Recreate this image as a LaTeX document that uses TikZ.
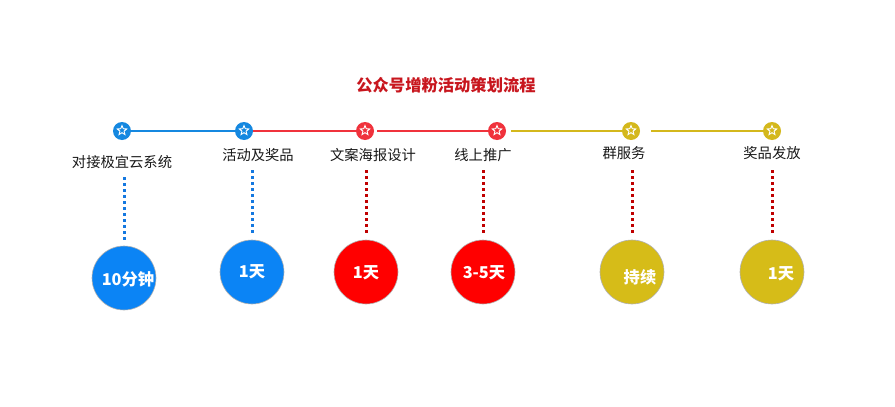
\documentclass[tikz,border=0pt]{standalone}
\usepackage{fontspec}
\setmainfont{Noto Sans CJK SC}
\usetikzlibrary{shapes.geometric}
\definecolor{cblue}{HTML}{0B84F5}
\definecolor{mblue}{HTML}{1588E0}
\definecolor{cred}{HTML}{FF0000}
\definecolor{mred}{HTML}{F0323C}
\definecolor{cyel}{HTML}{D6BC18}
\definecolor{myel}{HTML}{D4B81C}
\definecolor{dred}{HTML}{C00000}
\definecolor{dblue}{HTML}{1478E0}
\definecolor{ttl}{HTML}{C8161E}
\tikzset{
  marker/.style={circle,fill=#1,minimum size=18pt,inner sep=0pt},
  starico/.style={star,star points=5,star point ratio=2.3,draw=white,line width=0.9pt,minimum size=10pt,inner sep=0pt},
  lbl/.style={font=\fontsize{14.3pt}{16pt}\selectfont,text=black!90,inner sep=0pt},
  big/.style={circle,fill=#1,draw=gray!60,line width=0.6pt,minimum size=64pt,inner sep=0pt},
  btxt/.style={font=\fontsize{16.3pt}{18pt}\selectfont\bfseries,text=white,inner sep=0pt},
  dots/.style={draw=#1,line width=3pt,dash pattern=on 3pt off 3pt,shorten >=5pt},
  tl/.style={draw=#1,line width=1.6pt}
}
\begin{document}
\begin{tikzpicture}[x=1pt,y=-1pt]
\useasboundingbox[fill=white] (0,0) rectangle (895,407);
\node[font=\fontsize{16.3pt}{18pt}\selectfont\bfseries,text=ttl,inner sep=0pt] (title) at (446,85) {公众号增粉活动策划流程};
% markers
\node[marker=mblue] (m1) at (122,131) {};
\node[marker=mblue] (m2) at (244,131) {};
\node[marker=mred] (m3) at (365,131) {};
\node[marker=mred] (m4) at (497,131) {};
\node[marker=myel] (m5) at (631,131) {};
\node[marker=myel] (m6) at (772,131) {};
\foreach \i in {1,...,6} {\node[starico] at ([yshift=0.5pt]m\i.center) {};}
% timeline
\draw[tl=mblue] (m1) -- (m2);
\draw[tl=mred] (m2) -- (m3);
\coordinate (g3) at (377,131);
\draw[tl=mred] (g3) -- (m4);
\coordinate (g4) at (511,131);
\draw[tl=myel] (g4) -- (m5);
\coordinate (g5) at (651,131);
\draw[tl=myel] (g5) -- (m6);
% labels
\node[lbl] (l1) at (122,162) {对接极宜云系统};
\node[lbl] (l2) at (258,155) {活动及奖品};
\node[lbl] (l3) at (373,155) {文案海报设计};
\node[lbl] (l4) at (483,155) {线上推广};
\node[lbl] (l5) at (624,153) {群服务};
\node[lbl] (l6) at (772,153) {奖品发放};
% circles
\node[big=cblue] (c1) at (124,278) {};
\node[big=cblue] (c2) at (252,272) {};
\node[big=cred] (c3) at (366,272) {};
\node[big=cred] (c4) at (483,272) {};
\node[big=cyel] (c5) at (632,272) {};
\node[big=cyel] (c6) at (772,272) {};
\node[btxt] at (128,279) {10分钟};
\node[btxt] at (252,272) {1天};
\node[btxt] at (366,273) {1天};
\node[btxt] at (484,273) {3-5天};
\node[btxt] at (640,277) {持续};
\node[btxt] at (781,274) {1天};
% dotted connectors
\coordinate (d1) at (124,177);
\coordinate (d2) at (252,170);
\coordinate (d3) at (366,170);
\coordinate (d4) at (483,170);
\coordinate (d5) at (632,170);
\coordinate (d6) at (772,170);
\draw[dots=dblue] (d1) -- (c1.north);
\draw[dots=dblue] (d2) -- (c2.north);
\draw[dots=dred] (d3) -- (c3.north);
\draw[dots=dred] (d4) -- (c4.north);
\draw[dots=dred] (d5) -- (c5.north);
\draw[dots=dred] (d6) -- (c6.north);
\end{tikzpicture}
\end{document}
